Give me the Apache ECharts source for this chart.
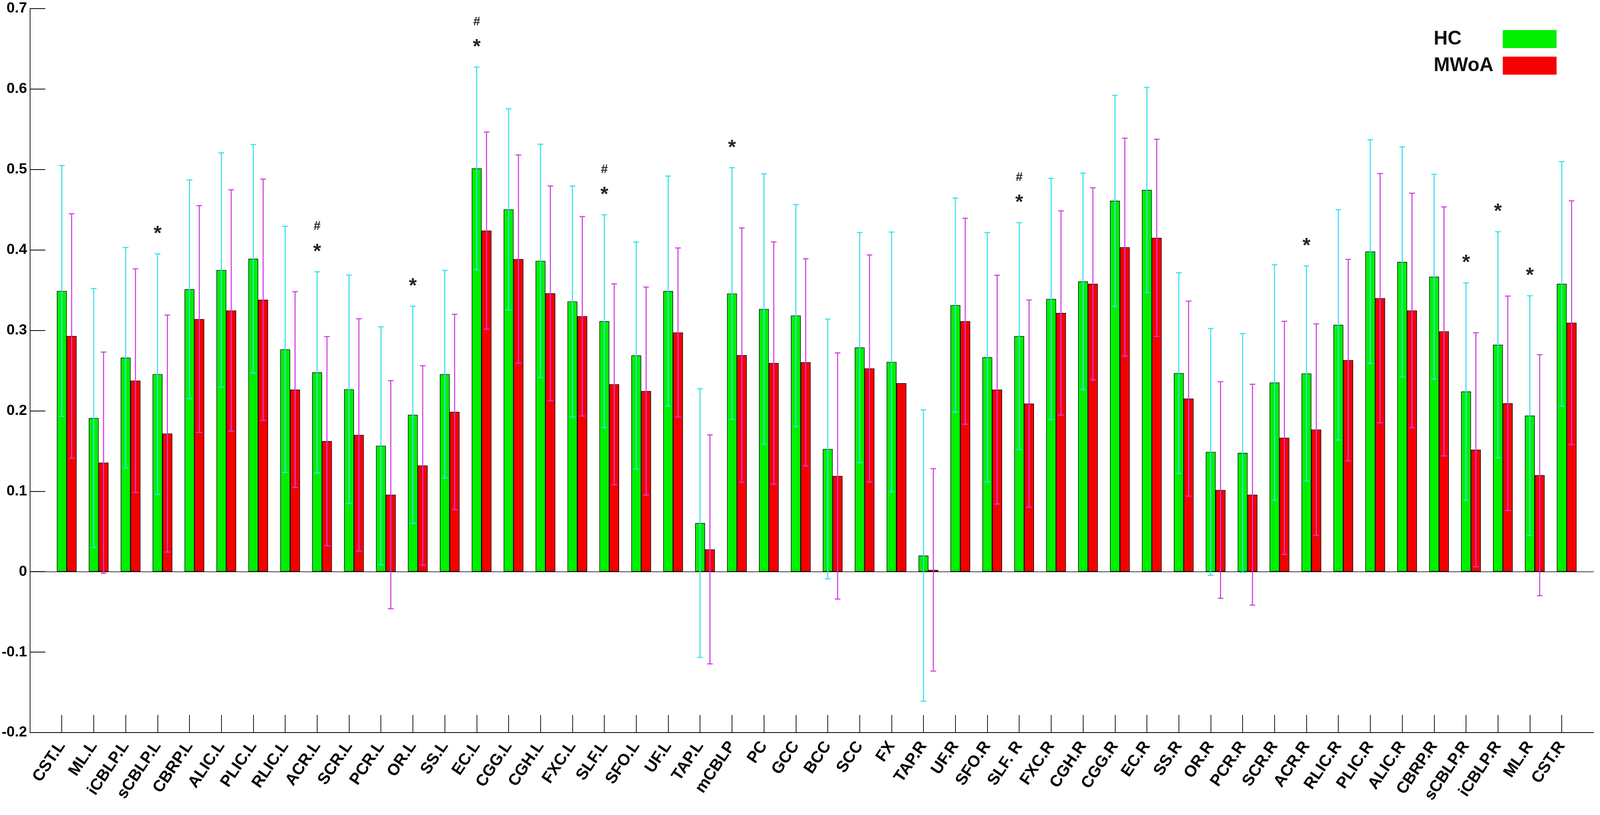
<!DOCTYPE html>
<html>
<head>
<meta charset="utf-8">
<script src="https://cdn.jsdelivr.net/npm/echarts@6/dist/echarts.min.js"></script>
<style>
  html, body { margin: 0; padding: 0; background: #fff; overflow: hidden; }
  #chart { width: 100vw; height: 100vh; }
</style>
</head>
<body>
<div id="chart"></div>
<script>
const regions = [
  'CST.L', 'ML.L', 'iCBLP.L', 'sCBLP.L', 'CBRP.L', 'ALIC.L', 'PLIC.L', 'RLIC.L',
  'ACR.L', 'SCR.L', 'PCR.L', 'OR.L', 'SS.L', 'EC.L', 'CGG.L', 'CGH.L',
  'FXC.L', 'SLF.L', 'SFO.L', 'UF.L', 'TAP.L', 'mCBLP', 'PC', 'GCC',
  'BCC', 'SCC', 'FX', 'TAP.R', 'UF.R', 'SFO.R', 'SLF. R', 'FXC.R',
  'CGH.R', 'CGG.R', 'EC.R', 'SS.R', 'OR.R', 'PCR.R', 'SCR.R', 'ACR.R',
  'RLIC.R', 'PLIC.R', 'ALIC.R', 'CBRP.R', 'sCBLP.R', 'iCBLP.R', 'ML.R', 'CST.R'
]

const hcMean = [
  0.349, 0.191, 0.266, 0.2455, 0.351, 0.375, 0.389, 0.2764,
  0.2478, 0.2267, 0.1565, 0.195, 0.2455, 0.5013, 0.4504, 0.3864,
  0.3359, 0.3113, 0.2688, 0.3488, 0.0604, 0.3457, 0.3265, 0.3184,
  0.1525, 0.2786, 0.2607, 0.020, 0.3314, 0.2665, 0.2929, 0.339,
  0.3609, 0.4611, 0.4745, 0.2469, 0.1489, 0.1476, 0.2352, 0.2464,
  0.3068, 0.398, 0.385, 0.3667, 0.224, 0.282, 0.194, 0.3578
]
const hcSD = [
  0.156, 0.161, 0.137, 0.1495, 0.136, 0.1456, 0.142, 0.153,
  0.125, 0.142, 0.148, 0.135, 0.129, 0.126, 0.125, 0.145,
  0.1435, 0.1324, 0.141, 0.143, 0.167, 0.1565, 0.168, 0.138,
  0.1615, 0.143, 0.1615, 0.181, 0.133, 0.155, 0.141, 0.15,
  0.1346, 0.131, 0.1275, 0.1247, 0.1534, 0.1484, 0.1463, 0.1336,
  0.1431, 0.139, 0.143, 0.1273, 0.135, 0.1406, 0.149, 0.152
]
const mwoaMean = [
  0.293, 0.1355, 0.2375, 0.1717, 0.314, 0.3247, 0.338, 0.2263,
  0.1623, 0.17, 0.0957, 0.132, 0.1986, 0.424, 0.3886, 0.346,
  0.3175, 0.233, 0.2245, 0.2974, 0.0277, 0.2692, 0.2594, 0.2603,
  0.119, 0.2527, 0.2343, 0.0022, 0.3113, 0.2263, 0.2089, 0.3216,
  0.3578, 0.4034, 0.415, 0.2151, 0.1015, 0.0957, 0.1664, 0.1767,
  0.263, 0.340, 0.3247, 0.2987, 0.1516, 0.2093, 0.1199, 0.3095
]
// FX has no error bar for MWoA in the figure
const mwoaSD = [
  0.152, 0.1375, 0.139, 0.1473, 0.141, 0.150, 0.150, 0.1217,
  0.130, 0.1444, 0.1418, 0.124, 0.1214, 0.1225, 0.1294, 0.1334,
  0.124, 0.1248, 0.1293, 0.105, 0.1423, 0.158, 0.1506, 0.1287,
  0.153, 0.141, null, 0.1258, 0.128, 0.1422, 0.1288, 0.127,
  0.1194, 0.1355, 0.1226, 0.1212, 0.1346, 0.1373, 0.1449, 0.1314,
  0.1252, 0.155, 0.1458, 0.1548, 0.1454, 0.1333, 0.1498, 0.1515
]
// significance marks drawn above the HC error bar
const sigMarks = [
  '', '', '', '*', '', '', '', '',
  '#*', '', '', '*', '', '#*', '', '',
  '', '#*', '', '', '', '*', '', '',
  '', '', '', '', '', '', '#*', '',
  '', '', '', '', '', '', '', '*',
  '', '', '', '', '*', '*', '*', ''
]

const FONT = 'Liberation Sans, Arial, Helvetica, sans-serif'

const chart = echarts.init(document.getElementById('chart'))
const W = chart.getWidth()
const H = chart.getHeight()
// layout was measured on a 4550 x 2086 canvas, scale it to whatever we got
const sx = W / 4550
const sy = H / 2086
const s = Math.min(sx, sy)

const BAR_W = 28 * sx
const CAP = 8 * s

// one empty slot on each end, so the first and last groups sit a full step in
const cats = [''].concat(regions, [''])
const pad = arr => [null].concat(arr, [null])

const errorBars = (name, means, sds, color, shift, marks) => ({
  type: 'custom',
  name: name,
  z: 5,
  silent: true,
  data: means.map((m, i) => [i + 1, m, sds[i] == null ? 0 : sds[i]]),
  renderItem: (params, api) => {
    const i = params.dataIndex
    const kids = []
    const m = api.value(1)
    const sd = api.value(2)
    const top = api.coord([api.value(0), m + sd])
    const bot = api.coord([api.value(0), m - sd])
    const x = top[0] + shift
    const style = { stroke: color, lineWidth: 3 * s }
    if (sds[i] != null) {
      kids.push({ type: 'line', shape: { x1: x, y1: top[1], x2: x, y2: bot[1] }, style })
      kids.push({ type: 'line', shape: { x1: x - CAP, y1: top[1], x2: x + CAP, y2: top[1] }, style })
      kids.push({ type: 'line', shape: { x1: x - CAP, y1: bot[1], x2: x + CAP, y2: bot[1] }, style })
    }
    const mark = marks ? marks[i] : ''
    if (mark.indexOf('*') >= 0) {
      kids.push({
        type: 'text', x: x, y: top[1] - 50 * sy,
        style: { text: '*', fill: '#262626', font: 'bold ' + Math.round(58 * s) + 'px ' + FONT, align: 'center', verticalAlign: 'middle' }
      })
    }
    if (mark.indexOf('#') >= 0) {
      kids.push({
        type: 'text', x: x, y: top[1] - 116 * sy,
        style: { text: '#', fill: '#262626', font: 'bold ' + Math.round(36 * s) + 'px ' + FONT, align: 'center', verticalAlign: 'middle' }
      })
    }
    return { type: 'group', children: kids }
  }
})

chart.setOption({
  animation: false,
  backgroundColor: '#fff',
  grid: { left: 85 * sx, right: 18 * sx, top: 22 * sy, bottom: 211 * sy, containLabel: false, outerBoundsMode: 'none' },
  legend: {
    data: ['HC', 'MWoA'],
    orient: 'vertical',
    left: 4077 * sx,
    top: 75 * sy,
    align: 'right',
    icon: 'rect',
    itemWidth: 153 * sx,
    itemHeight: 46 * sy,
    itemGap: 18 * sy,
    padding: 0,
    selectedMode: false,
    itemStyle: { borderWidth: 0 },
    formatter: n => '{t|' + n + '}',
    textStyle: {
      rich: {
        t: { width: 191 * sx, align: 'left', fontSize: 55 * s, fontWeight: 'bold', fontFamily: FONT, color: '#111', lineHeight: 46 * sy }
      }
    }
  },
  xAxis: {
    type: 'category',
    data: cats,
    boundaryGap: false,
    axisLine: { onZero: false, lineStyle: { color: '#000', width: 2 * s } },
    axisTick: {
      inside: true,
      length: 45 * sy,
      interval: idx => idx > 0 && idx < cats.length - 1,
      lineStyle: { color: '#000', width: 2 * s }
    },
    axisLabel: {
      interval: 0,
      rotate: 56,
      margin: 30 * s,
      color: '#000',
      fontSize: 46 * s,
      fontWeight: 'bold',
      fontFamily: FONT
    },
    splitLine: { show: false }
  },
  yAxis: {
    type: 'value',
    min: -0.2,
    max: 0.7,
    interval: 0.1,
    splitLine: { show: false },
    axisLine: { show: true, lineStyle: { color: '#000', width: 2 * s } },
    axisTick: { show: true, inside: true, length: 44 * sx, lineStyle: { color: '#000', width: 2 * s } },
    axisLabel: {
      color: '#000',
      fontSize: 42 * s,
      fontWeight: 'bold',
      fontFamily: FONT,
      margin: 8 * s,
      formatter: v => String(Math.round(v * 10) / 10)
    }
  },
  series: [
    // empty slot on the left so the HC bar sits on the tick, MWoA to its right
    { name: 'gap', type: 'bar', data: pad(regions.map(() => null)), barWidth: BAR_W, barGap: '0%', silent: true },
    {
      name: 'HC',
      type: 'bar',
      data: pad(hcMean),
      barWidth: BAR_W,
      barGap: '0%',
      itemStyle: { color: '#00f000', borderColor: '#000', borderWidth: 1.5 * s },
      markLine: {
        silent: true,
        symbol: 'none',
        label: { show: false },
        lineStyle: { color: '#000', width: 1.5 * s, type: 'solid' },
        data: [{ yAxis: 0 }]
      }
    },
    {
      name: 'MWoA',
      type: 'bar',
      data: pad(mwoaMean),
      barWidth: BAR_W,
      barGap: '0%',
      itemStyle: { color: '#f50000', borderColor: '#000', borderWidth: 1.5 * s }
    },
    errorBars('HC err', hcMean, hcSD, '#35e0ec', 0, sigMarks),
    errorBars('MWoA err', mwoaMean, mwoaSD, '#d03ede', BAR_W, null)
  ]
})
</script>
</body>
</html>
